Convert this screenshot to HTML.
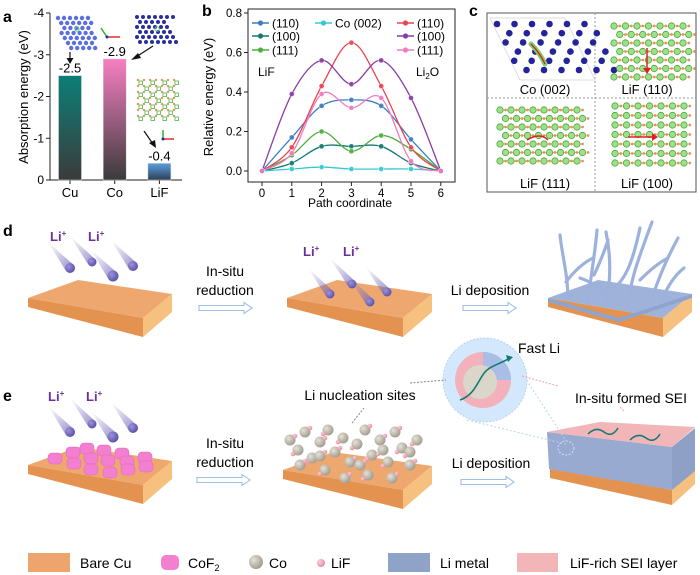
<!DOCTYPE html>
<html><head><meta charset="utf-8"><style>
html,body{margin:0;padding:0;background:#fff;}
svg{display:block;font-family:"Liberation Sans",Arial,sans-serif;}
</style></head><body>
<svg id="fig" width="700" height="575" viewBox="0 0 700 575" xmlns="http://www.w3.org/2000/svg">
<defs>
<linearGradient id="gCu" x1="0" y1="0" x2="0" y2="1"><stop offset="0" stop-color="#0b7f78"/><stop offset="1" stop-color="#3b3b3b"/></linearGradient>
<linearGradient id="gCo" x1="0" y1="0" x2="0" y2="1"><stop offset="0" stop-color="#f77fc3"/><stop offset="1" stop-color="#3b3b3b"/></linearGradient>
<linearGradient id="gLiF" x1="0" y1="0" x2="0" y2="1"><stop offset="0" stop-color="#5aa0e0"/><stop offset="1" stop-color="#2f3f55"/></linearGradient>
<linearGradient id="tail" x1="0" y1="0" x2="1" y2="1"><stop offset="0" stop-color="#8a80c8" stop-opacity="0"/><stop offset="1" stop-color="#6a5fb8" stop-opacity="0.7"/></linearGradient>
<radialGradient id="ball" cx="0.35" cy="0.35" r="0.7"><stop offset="0" stop-color="#9c94d8"/><stop offset="1" stop-color="#5a4fa8"/></radialGradient>
<radialGradient id="coball" cx="0.35" cy="0.35" r="0.7"><stop offset="0" stop-color="#e6e2d8"/><stop offset="1" stop-color="#a09a8c"/></radialGradient>
<radialGradient id="lifball" cx="0.35" cy="0.35" r="0.7"><stop offset="0" stop-color="#fbd0d8"/><stop offset="1" stop-color="#e68a9c"/></radialGradient>
</defs>

<g id="panelA">
<text x="3" y="22" font-size="16" font-weight="bold">a</text>
<text transform="translate(28,97) rotate(-90)" text-anchor="middle" font-size="13">Absorption energy (eV)</text>
<g id="aAxes"></g>
<g id="aBars"></g>
<g id="cuInset"></g>
<g id="coInset"></g>
<g id="lifInset"></g>
<line x1="70" y1="52" x2="70" y2="60" stroke="#111" stroke-width="1.2"/>
<path d="M66.5,58 L70,64 L73.5,58Z" fill="#111"/>
<line x1="153" y1="46" x2="136" y2="57" stroke="#111" stroke-width="1.2"/>
<path d="M138,53 L131,60 L141,58Z" fill="#111"/>
<line x1="144" y1="131" x2="153" y2="144" stroke="#111" stroke-width="1.2"/>
<path d="M149,143 L156,148 L155,140Z" fill="#111"/>
<g>
<line x1="107" y1="37" x2="101" y2="28" stroke="#2bb52b" stroke-width="1.5"/><line x1="107" y1="37" x2="120" y2="37" stroke="#e03030" stroke-width="1.5"/><circle cx="107" cy="37" r="1.5" fill="#2030a0"/>
<line x1="163" y1="139" x2="163" y2="130" stroke="#2bb52b" stroke-width="1.5"/><line x1="163" y1="139" x2="174" y2="139" stroke="#e03030" stroke-width="1.5"/><circle cx="163" cy="139" r="1.5" fill="#2030a0"/>
</g>
</g>

<g id="panelB">
<text x="202" y="16" font-size="16" font-weight="bold">b</text>
<text transform="translate(213,97) rotate(-90)" text-anchor="middle" font-size="13">Relative energy (eV)</text>
<text x="350" y="207" text-anchor="middle" font-size="12">Path coordinate</text>
<text x="258" y="76" font-size="12">LiF</text>
<text x="416" y="76" font-size="12">Li<tspan font-size="8" dy="3">2</tspan><tspan dy="-3">O</tspan></text>
<g id="bAxes"></g>
<g id="bLines"></g>
<g id="bLegend"></g>
</g>

<g id="panelC">
<text x="469" y="16" font-size="16" font-weight="bold">c</text>
<rect x="487" y="13" width="209" height="179" fill="none" stroke="#555" stroke-width="1"/>
<line x1="595" y1="13" x2="595" y2="192" stroke="#999" stroke-dasharray="2,2"/>
<line x1="487" y1="98" x2="696" y2="98" stroke="#999" stroke-dasharray="2,2"/>
<g id="cCo"></g><g id="c110"></g><g id="c111"></g><g id="c100"></g>
<text x="545" y="94" text-anchor="middle" font-size="13">Co (002)</text>
<text x="647" y="94" text-anchor="middle" font-size="13">LiF (110)</text>
<text x="545" y="188" text-anchor="middle" font-size="13">LiF (111)</text>
<text x="647" y="188" text-anchor="middle" font-size="13">LiF (100)</text>
</g>

<g id="panelD">
<text x="3" y="236" font-size="16" font-weight="bold">d</text>
<g id="slabD1"></g>
<g id="slabD2"></g>
<g id="slabD3"></g>
<text x="50" y="241" font-size="13" font-weight="bold" fill="#6b2fa0">Li<tspan font-size="8" dy="-5">+</tspan></text>
<text x="88" y="241" font-size="13" font-weight="bold" fill="#6b2fa0">Li<tspan font-size="8" dy="-5">+</tspan></text>
<text x="303" y="256" font-size="13" font-weight="bold" fill="#6b2fa0">Li<tspan font-size="8" dy="-5">+</tspan></text>
<text x="343" y="256" font-size="13" font-weight="bold" fill="#6b2fa0">Li<tspan font-size="8" dy="-5">+</tspan></text>
<text x="225" y="276" text-anchor="middle" font-size="14">In-situ</text>
<text x="225" y="295" text-anchor="middle" font-size="14">reduction</text>
<text x="490" y="295" text-anchor="middle" font-size="14">Li deposition</text>
<path d="M199,305.5 H244 V302.5 L252,308 L244,313.5 V310.5 H199Z" fill="#fff" stroke="#9fc0ea" stroke-width="1.1"/>
<path d="M463,305.5 H508 V302.5 L516,308 L508,313.5 V310.5 H463Z" fill="#fff" stroke="#9fc0ea" stroke-width="1.1"/>
</g>

<g id="panelE">
<text x="3" y="401" font-size="16" font-weight="bold">e</text>
<g id="slabE1"></g>
<g id="slabE2"></g>
<g id="slabE3"></g>
<g id="sphere"></g>
<text x="48" y="401" font-size="13" font-weight="bold" fill="#6b2fa0">Li<tspan font-size="8" dy="-5">+</tspan></text>
<text x="86" y="401" font-size="13" font-weight="bold" fill="#6b2fa0">Li<tspan font-size="8" dy="-5">+</tspan></text>
<text x="225" y="448" text-anchor="middle" font-size="14">In-situ</text>
<text x="225" y="467" text-anchor="middle" font-size="14">reduction</text>
<text x="491" y="468" text-anchor="middle" font-size="14">Li deposition</text>
<text x="360" y="400" text-anchor="middle" font-size="14">Li nucleation sites</text>
<text x="518" y="353" font-size="14">Fast Li</text>
<text x="631" y="403" text-anchor="middle" font-size="14">In-situ formed SEI</text>
<path d="M197,477.5 H242 V474.5 L250,480 L242,485.5 V482.5 H197Z" fill="#fff" stroke="#9fc0ea" stroke-width="1.1"/>
<path d="M461,479.5 H506 V476.5 L514,482 L506,487.5 V484.5 H461Z" fill="#fff" stroke="#9fc0ea" stroke-width="1.1"/>
<line x1="352" y1="423" x2="364" y2="408" stroke="#888" stroke-dasharray="2,1.5"/>
<line x1="624" y1="411" x2="619" y2="406" stroke="#f0a0b0" stroke-dasharray="2,1.5"/>
</g>

<g id="legend">
<rect x="28" y="553" width="42" height="19" fill="#eda56d"/>
<text x="80" y="568" font-size="14">Bare Cu</text>
<rect x="161" y="555" width="18" height="15" rx="5" fill="#f27fcf"/>
<text x="188" y="568" font-size="14">CoF<tspan font-size="9" dy="3">2</tspan></text>
<circle cx="256" cy="562" r="7" fill="url(#coball)"/>
<text x="269" y="568" font-size="14">Co</text>
<circle cx="321" cy="563" r="4" fill="url(#lifball)"/>
<text x="331" y="568" font-size="14">LiF</text>
<rect x="388" y="553" width="42" height="19" fill="#8fa3c8"/>
<text x="440" y="568" font-size="14">Li metal</text>
<rect x="517" y="553" width="41" height="19" fill="#f2b5b8"/>
<text x="570" y="568" font-size="14">LiF-rich SEI layer</text>
</g>
</svg>
<script>
const aCategories = ["Cu", "Co", "LiF"];
const aValues = [-2.5, -2.9, -0.4];
const aValueLabels = ["-2.5", "-2.9", "-0.4"];
const aTicks = [0, -1, -2, -3, -4];
const bX = [0, 1, 2, 3, 4, 5, 6];
const bTicksY = [0, 0.2, 0.4, 0.6, 0.8];
const bTickLabelsY = ["0.0", "0.2", "0.4", "0.6", "0.8"];
const lif110 = [0, 0.17, 0.33, 0.36, 0.33, 0.16, 0];
const lif100 = [0, 0.04, 0.125, 0.125, 0.125, 0.04, 0];
const lif111 = [0, 0.08, 0.20, 0.10, 0.18, 0.11, 0];
const co002 = [0, 0.01, 0.02, 0.01, 0.01, 0.01, 0];
const li2o110 = [0, 0.12, 0.43, 0.65, 0.43, 0.12, 0];
const li2o100 = [0, 0.39, 0.56, 0.44, 0.56, 0.37, 0];
const li2o111 = [0, 0.09, 0.39, 0.32, 0.37, 0.05, 0];
const bSeriesNames = ["(110)", "(100)", "(111)", "Co (002)", "(110)", "(100)", "(111)"];

const NS = "http://www.w3.org/2000/svg";
function mk(parent, tag, attrs) { const e = document.createElementNS(NS, tag); for (const k in attrs) e.setAttribute(k, attrs[k]); parent.appendChild(e); return e; }
function txt(parent, x, y, s, attrs) { const e = mk(parent, "text", Object.assign({x: x, y: y, "font-size": 12}, attrs || {})); e.textContent = s; return e; }

const aY = v => 180 - (-v) / 4 * 167;
const aXc = i => 70 + i * 44.7;
(function () {
  const g = document.getElementById("aAxes");
  const ax = mk(g, "path", {d: "M50,13 V180 H182", fill: "none", stroke: "#222", "stroke-width": 1});
  
  
  aTicks.forEach(t => {
    mk(g, "line", {x1: 46, x2: 50, y1: aY(t), y2: aY(t), stroke: "#222"});
    const l = txt(g, 44, aY(t) + 4, String(t), {"text-anchor": "end", "font-size": 12});
    
    
  });
  const bg = document.getElementById("aBars");
  const fills = ["url(#gCu)", "url(#gCo)", "url(#gLiF)"];
  aCategories.forEach((c, i) => {
    mk(g, "line", {x1: aXc(i), x2: aXc(i), y1: 180, y2: 184, stroke: "#222"});
    const cl = txt(g, aXc(i), 197, c, {"text-anchor": "middle", "font-size": 13});
    
    
    const r = mk(bg, "rect", {x: aXc(i) - 11.5, y: aY(aValues[i]), width: 23, height: 180 - aY(aValues[i]), fill: fills[i], stroke: "#ddd", "stroke-width": 0.5});
    
    
    const vl = txt(bg, aXc(i), aY(aValues[i]) - 3, aValueLabels[i], {"text-anchor": "middle", "font-size": 13});
    
    
  });
})();
(function () {
  const cu = document.getElementById("cuInset");
  for (let r = 0; r < 7; r++) for (let c = 0; c < 8; c++) {
    const x = 52 + c * 6 + r * 3.2, y = 18 + r * 5;
    if (x < 55 + r * 2 || x > 96 - (6 - r) * 0.5) continue;
    mk(cu, "circle", {cx: x, cy: y, r: 2.2, fill: "#5a6fe0"});
  }
  mk(cu, "circle", {cx: 77, cy: 29, r: 2.2, fill: "none", stroke: "#6ad06a", "stroke-width": 1});
  const co = document.getElementById("coInset");
  for (let r = 0; r < 6; r++) for (let c = 0; c < 7; c++) {
    const x = 137 + c * 6 + r * 3 - 12 + (r === 0 ? 12 : 0), y = 17 + r * 5;
    if (x > 180 || x < 137) continue;
    mk(co, "circle", {cx: x, cy: y, r: 2, fill: "#2a2fa0"});
  }
  mk(co, "circle", {cx: 157, cy: 29, r: 2.2, fill: "none", stroke: "#6ad06a", "stroke-width": 1});
  const lf = document.getElementById("lifInset");
  for (let r = 0; r < 7; r++) for (let c = 0; c < 7; c++) {
    const x = 138 + c * 6, y = 80 + r * 6;
    mk(lf, "circle", {cx: x, cy: y, r: 1.2, fill: "#e8955a"});
    if ((r + c) % 2 === 0) mk(lf, "rect", {x: x + 1, y: y + 1, width: 3.5, height: 3.5, fill: "none", stroke: "#5cbf5c", "stroke-width": 0.9});
  }
})();

const bx = v => 262 + v * 29.8;
const by = v => 171 - v / 0.8 * 158;
(function () {
  const g = document.getElementById("bAxes");
  const f = mk(g, "rect", {x: 248, y: 9, width: 207, height: 173, fill: "none", stroke: "#222", "stroke-width": 1});
  
  
  bTicksY.forEach((t, i) => {
    mk(g, "line", {x1: 244, x2: 248, y1: by(t), y2: by(t), stroke: "#222"});
    const l = txt(g, 242, by(t) + 4, bTickLabelsY[i], {"text-anchor": "end", "font-size": 11.5});
    
    
  });
  bX.forEach(t => {
    mk(g, "line", {x1: bx(t), x2: bx(t), y1: 182, y2: 186, stroke: "#222"});
    const l = txt(g, bx(t), 197, String(t), {"text-anchor": "middle", "font-size": 11.5});
    
    
  });
  const series = [lif110, lif100, lif111, co002, li2o110, li2o100, li2o111];
  const colors = ["#3a7ec4", "#137a72", "#4caf3c", "#35c8d2", "#e8454f", "#8a3ca6", "#f27ac2"];
  const lg = document.getElementById("bLines");
  series.forEach((s, si) => {
    const pts = s.map((v, i) => [bx(bX[i]), by(v)]);
    let d = "M" + pts[0][0] + "," + pts[0][1];
    for (let i = 0; i < pts.length - 1; i++) {
      const p0 = pts[Math.max(0, i - 1)], p1 = pts[i], p2 = pts[i + 1], p3 = pts[Math.min(pts.length - 1, i + 2)];
      const c1 = [p1[0] + (p2[0] - p0[0]) / 6, p1[1] + (p2[1] - p0[1]) / 6];
      const c2 = [p2[0] - (p3[0] - p1[0]) / 6, p2[1] - (p3[1] - p1[1]) / 6];
      d += " C" + c1[0] + "," + c1[1] + " " + c2[0] + "," + c2[1] + " " + p2[0] + "," + p2[1];
    }
    const path = mk(lg, "path", {d: d, fill: "none", stroke: colors[si], "stroke-width": 1.3});
    
    
    pts.forEach(p => {
      const c = mk(lg, "circle", {cx: p[0], cy: p[1], r: 2.6, fill: colors[si], stroke: "#fff", "stroke-width": 0.5, opacity: 0.9});
      
      
    });
  });
  const leg = document.getElementById("bLegend");
  const lpos = [[252, 23], [252, 36], [252, 50], [315, 23], [397, 23], [397, 36], [397, 50]];
  bSeriesNames.forEach((n, i) => {
    const [x, y] = lpos[i];
    const e = mk(leg, "g", {});
    
    
    mk(e, "line", {x1: x, x2: x + 17, y1: y, y2: y, stroke: colors[i], "stroke-width": 1.5});
    mk(e, "circle", {cx: x + 8.5, cy: y, r: 2.6, fill: colors[i]});
    txt(e, x + 20, y + 4.5, n, {"font-size": 12});
  });
})();

(function () {
  const co = document.getElementById("cCo");
  mk(co, "path", {d: "M490,18 L565,18 L595,80 L520,80Z", fill: "none", stroke: "#ddd"});
  for (let r = 0; r < 6; r++) for (let c = 0; c < 6; c++) {
    const x = 499 + c * 17.5 + r * 4.3 - 2, y = 24 + r * 9.2;
    if (r % 2) { mk(co, "circle", {cx: x + 8, cy: y, r: 3.3, fill: "#23239a"}); }
    else mk(co, "circle", {cx: x, cy: y, r: 3.3, fill: "#23239a"});
  }
  mk(co, "path", {d: "M531,44 Q540,53 545,64", fill: "none", stroke: "#7ccf6e", "stroke-width": 5, "stroke-linecap": "round"});
  mk(co, "path", {d: "M531,44 Q540,53 545,64", fill: "none", stroke: "#e02020", "stroke-width": 1.3});
  function lifGrid(gid, x0, y0, nx, ny, dx, dy, offset) {
    const g = document.getElementById(gid);
    for (let r = 0; r < ny; r++) for (let c = 0; c < nx; c++) {
      const x = x0 + c * dx + (offset ? (r % 2) * dx / 2 : 0), y = y0 + r * dy;
      if (c < nx - 1) mk(g, "line", {x1: x, y1: y, x2: x + dx, y2: y, stroke: "#e8a070", "stroke-width": 0.8});
      mk(g, "circle", {cx: x + dx / 2, cy: y, r: 1.4, fill: "#e8905a"});
      mk(g, "circle", {cx: x, cy: y, r: 3.2, fill: "#9ee08a", stroke: "#4aa83a", "stroke-width": 0.8});
    }
    return g;
  }
  const g110 = lifGrid("c110", 614, 26, 7, 7, 11.5, 8.5, true);
  mk(g110, "line", {x1: 647, y1: 48, x2: 647, y2: 70, stroke: "#e02020", "stroke-width": 1.5});
  mk(g110, "path", {d: "M643,68 L647,74 L651,68Z", fill: "#e02020"});
  const g111 = lifGrid("c111", 500, 110, 8, 7, 11, 8.5, true);
  mk(g111, "path", {d: "M527,140 Q540,132 548,140", fill: "none", stroke: "#e02020", "stroke-width": 1.5});
  const g100 = lifGrid("c100", 615, 106, 7, 7, 11.5, 9.5, false);
  mk(g100, "line", {x1: 628, y1: 137, x2: 653, y2: 137, stroke: "#e02020", "stroke-width": 1.5});
  mk(g100, "path", {d: "M652,133 L658,137 L652,141Z", fill: "#e02020"});
})();

function slab(g, x, yTop, w, topCol) {
  const L = [x, yTop + 18], B = [x + 50, yTop], R = [x + w, yTop + 14], F = [x + w - 29, yTop + 38];
  mk(g, "path", {d: `M${L} L${B} L${R} L${F}Z`, fill: topCol || "#eea86f"});
  mk(g, "path", {d: `M${L} L${F} L${F[0]},${F[1] + 19} L${L[0]},${L[1] + 9}Z`, fill: "#e3934f"});
  mk(g, "path", {d: `M${F} L${R} L${R[0]},${R[1] + 18} L${F[0]},${F[1] + 19}Z`, fill: "#f6c07e"});
}
function ion(g, x, y, r) {
  mk(g, "path", {d: `M${x - 22},${y - 26} L${x - r},${y + r * 0.3} L${x + r * 0.3},${y - r}Z`, fill: "url(#tail)"});
  mk(g, "circle", {cx: x, cy: y, r: r, fill: "url(#ball)"});
}
const d1 = document.getElementById("slabD1"); slab(d1, 28, 280, 144);
[[70, 268, 5], [92, 262, 4.5], [113, 276, 5.5], [133, 266, 5]].forEach(p => ion(d1, p[0], p[1], p[2]));
const d2 = document.getElementById("slabD2"); slab(d2, 287, 280, 145);
[[330, 294, 4.5], [352, 284, 4.5], [370, 302, 4.5], [387, 292, 4.5]].forEach(p => ion(d2, p[0], p[1], p[2]));
const d3 = document.getElementById("slabD3"); slab(d3, 548, 280, 144, "#9fb3da");
mk(d3, "path", {d: "M548,298 L619,318 L692,294 L692,298 L619,322 L548,302Z", fill: "#8ea4cf"});
["M568,300 C568,275 562,255 560,235", "M566,282 C575,270 585,262 593,258",
 "M588,303 C590,280 595,255 597,230", "M594,275 C600,262 605,250 608,240",
 "M606,306 C610,285 612,260 606,232", "M612,290 C625,280 632,265 640,228",
 "M628,308 C630,280 638,260 652,222", "M640,280 C650,270 660,262 668,258",
 "M650,304 C658,280 665,262 678,238", "M662,300 C668,285 675,275 684,268",
 "M615,306 C605,290 592,282 580,278"].forEach(d => {
  const p = mk(d3, "path", {d: d, fill: "none", stroke: "#9cb2dc", "stroke-width": 3.2, "stroke-linecap": "round"});
  
  
});
const e1 = document.getElementById("slabE1"); slab(e1, 28, 447, 144);
[[70, 432, 5], [92, 424, 4.5], [113, 437, 5.5], [133, 428, 5]].forEach(p => ion(e1, p[0], p[1], p[2]));
[[55, 459], [73, 453], [87, 449], [104, 451], [122, 454], [74, 464], [91, 459], [108, 461], [127, 462], [145, 458], [91, 470], [110, 473], [128, 470], [146, 467]].forEach(p => {
  const r = mk(e1, "rect", {x: p[0] - 7, y: p[1] - 6, width: 14, height: 11, rx: 4, fill: "#f27fcf", stroke: "#e066b8", "stroke-width": 0.5});
  
  
});
const e2 = document.getElementById("slabE2"); slab(e2, 283, 452, 149);
const coPts = [[290, 440], [298, 450], [305, 432], [312, 458], [320, 442], [328, 430], [335, 452], [343, 438], [350, 462], [357, 444], [365, 430], [372, 455], [380, 440], [388, 462], [395, 432], [402, 448], [410, 465], [417, 440], [300, 465], [325, 470], [345, 478], [368, 475], [392, 478], [410, 452], [320, 456], [383, 450], [360, 465]];
coPts.forEach(p => mk(e2, "circle", {cx: p[0], cy: p[1], r: 5.5, fill: "url(#coball)"}));
coPts.forEach((p, i) => { if (i % 2 === 0) mk(e2, "circle", {cx: p[0] + 5, cy: p[1] - 4, r: 2.3, fill: "url(#lifball)"}); else mk(e2, "circle", {cx: p[0] - 5, cy: p[1] + 4, r: 2.3, fill: "url(#lifball)"}); });
const e3 = document.getElementById("slabE3");
mk(e3, "path", {d: "M550,467 L672,490 L672,505 L550,478Z", fill: "#e3934f"});
mk(e3, "path", {d: "M672,490 L695,470 L695,484 L672,505Z", fill: "#f6c07e"});
mk(e3, "path", {d: "M547,432 L672,447 L672,490 L549,469Z", fill: "#98aad0"});
mk(e3, "path", {d: "M672,447 L695,428 L695,471 L672,490Z", fill: "#8ea0c6"});
mk(e3, "path", {d: "M547,432 L600,422 L695,427 L672,447Z", fill: "#f2b5b8"});
mk(e3, "path", {d: "M588,434 q8,-8 16,-2 t14,-4", fill: "none", stroke: "#137a72", "stroke-width": 1.5});
mk(e3, "path", {d: "M630,440 q8,-8 16,-2 t14,-4", fill: "none", stroke: "#137a72", "stroke-width": 1.5});
mk(e3, "ellipse", {cx: 566, cy: 448, rx: 8, ry: 7, fill: "none", stroke: "#cfe0f6", "stroke-dasharray": "2,1.5"});
const sp = document.getElementById("sphere");
mk(sp, "line", {x1: 467, y1: 420, x2: 566, y2: 444, stroke: "#b7d3f2", "stroke-dasharray": "2,2"});
mk(sp, "line", {x1: 520, y1: 370, x2: 566, y2: 441, stroke: "#b7d3f2", "stroke-dasharray": "2,2"});
mk(sp, "circle", {cx: 485, cy: 380, r: 42, fill: "#d3e8fc", stroke: "#b7d3f2", "stroke-dasharray": "2,1.5"});
mk(sp, "line", {x1: 410, y1: 383, x2: 446, y2: 380, stroke: "#888", "stroke-dasharray": "2,1.5"});
mk(sp, "line", {x1: 522, y1: 376, x2: 558, y2: 386, stroke: "#f0a0b0", "stroke-dasharray": "2,1.5"});
mk(sp, "circle", {cx: 483, cy: 380, r: 28, fill: "#f2b1bb"});
mk(sp, "path", {d: "M483,352 A28,28 0 0 1 511,380 L483,380Z", fill: "#a9bde6"});
mk(sp, "circle", {cx: 480, cy: 382, r: 17, fill: "#dad6ca"});
mk(sp, "path", {d: "M460,400 C475,395 478,380 485,372 C490,366 500,364 510,358", fill: "none", stroke: "#137a72", "stroke-width": 1.6});
mk(sp, "path", {d: "M506,355 L513,357 L508,362Z", fill: "#137a72"});
</script>
</body></html>
